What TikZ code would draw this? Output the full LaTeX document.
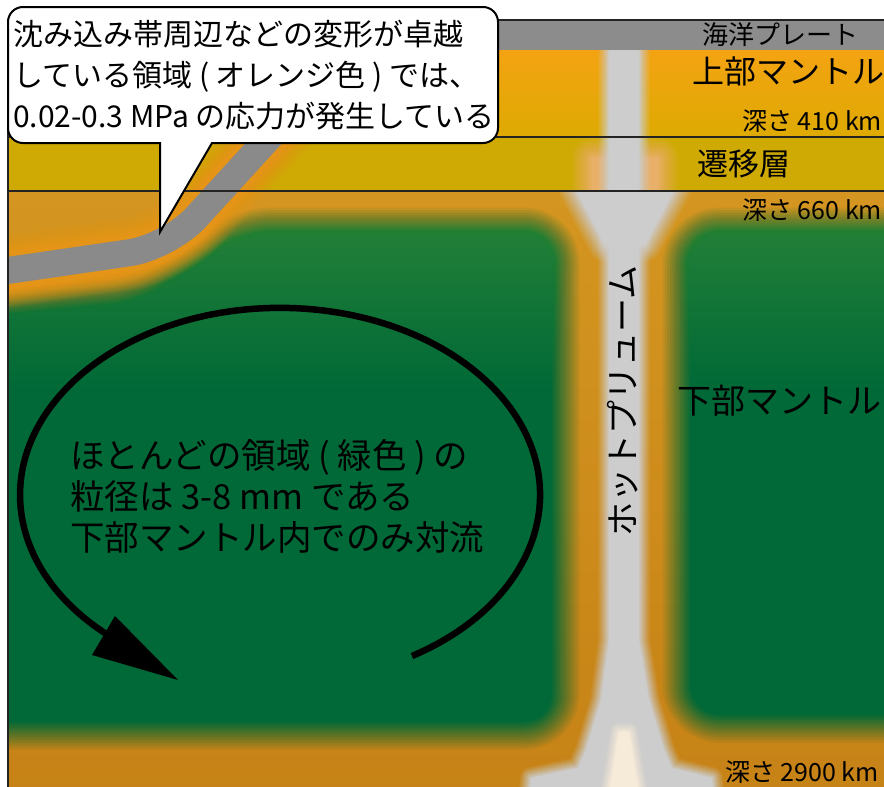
\documentclass[tikz,border=0pt]{standalone}
\usepackage{fontspec}
\setmainfont{Noto Sans CJK JP}

% ---------- colours ----------
\definecolor{plate}{RGB}{140,140,140}
\definecolor{umtop}{RGB}{244,163,18}
\definecolor{umbot}{RGB}{222,170,2}
\definecolor{tzone}{RGB}{207,170,5}
\definecolor{lmtop}{RGB}{212,150,32}
\definecolor{lmbot}{RGB}{198,130,22}
\definecolor{dgreen}{RGB}{0,105,55}
\definecolor{glowtop}{RGB}{40,131,30}
\definecolor{glowbot}{RGB}{0,105,30}
\definecolor{slabhalo}{RGB}{228,148,22}
\definecolor{slabgray}{RGB}{138,138,138}
\definecolor{plumegray}{RGB}{205,205,205}
\definecolor{tzhalo}{RGB}{232,176,105}
\definecolor{cream}{RGB}{246,234,216}
\definecolor{linecol}{RGB}{35,35,35}

% soft-edged filled region: colour, edge width, path
\newcommand\softfill[3]{%
  \foreach \m in {11,10,...,1}{%
    \pgfmathsetmacro\softlw{2*#2*\m/12}%
    \pgfmathsetmacro\softop{1/(\m+1)}%
    \begin{scope}[transparency group, opacity=\softop]
      \filldraw[fill=#1, draw=#1, line width=\softlw pt, line join=round] #3;
    \end{scope}
  }%
  \fill[#1] #3;
}
% soft-edged band along a path: colour, edge width, core width, path
\newcommand\softline[4]{%
  \foreach \m in {11,10,...,1}{%
    \pgfmathsetmacro\softlw{#3+2*#2*\m/12}%
    \pgfmathsetmacro\softop{1/(\m+1)}%
    \draw[draw=#1, opacity=\softop, line width=\softlw pt, line join=round, line cap=round] #4;
  }%
  \draw[draw=#1, line width=#3pt, line join=round, line cap=round] #4;
}

% core outlines of the two green (fine-grained) lower-mantle blocks
\newcommand\leftblock{[rounded corners=28pt] (-60,322) -- (140,303) -- (245,235) -- (552,235) -- (552,722) -- (-60,722) -- cycle}
\newcommand\rightblock{[rounded corners=30pt] (690,235) -- (950,235) -- (950,715) -- (690,715) -- cycle}

\tikzset{
  lbl/.style={inner sep=0pt, text=black, font=\fontsize{#1pt}{#1pt}\selectfont},
  txtblock/.style={inner sep=0pt, text=black, align=left, font=\fontsize{#1pt}{41pt}\selectfont},
  frameline/.style={draw=linecol, line width=2pt},
}

\begin{document}
\begin{tikzpicture}[x=1pt, y=-1pt]
\useasboundingbox (0,0) rectangle (884,787);
\clip (0,0) rectangle (884,787);
\fill[white] (0,0) rectangle (884,787);

\begin{scope}
\clip (8,20) rectangle (900,800);
% mantle layers
\shade[top color=umtop, bottom color=umbot] (8,49) rectangle (900,137);
\fill[tzone] (8,137) rectangle (900,191);
\shade[top color=lmtop, bottom color=lmbot] (8,191) rectangle (900,800);

% warm halo of the plume inside the transition zone
\begin{scope}
  \clip (0,137) rectangle (900,191);
  \softfill{tzhalo}{22}{(592,158) rectangle (658,205)}
\end{scope}

% lower mantle (green)
\softfill{dgreen}{30}{\leftblock}
\softfill{dgreen}{30}{\rightblock}
% the green is a little lighter near its top
\shade[blend mode=lighten, top color=glowtop, bottom color=glowbot] (8,200) rectangle (900,390);

% subducting slab with its deformed (orange) surroundings
\softline{slabhalo}{20}{38}{[rounded corners=40pt] (-30,276) -- (169,247) -- (349,50)}
\draw[slabgray, line width=27pt, line join=round] [rounded corners=40pt] (-30,276) -- (169,247) -- (349,50);

% hot plume
\softfill{plumegray}{12}{(609,45) -- (639,45) -- (639,640) -- (649,700) -- (664,750) -- (672,768) -- (712,778) -- (714,800) -- (529,800) -- (531,778) -- (578,768) -- (586,750) -- (601,700) -- (609,640) -- cycle}
\begin{scope}
  \clip (0,191) rectangle (900,800);
  \softfill{plumegray}{18}{(572,183) -- (678,183) -- (645,245) -- (605,245) -- cycle}
\end{scope}
\softfill{cream}{10}{(619,732) -- (629,732) -- (640,800) -- (608,800) -- cycle}

% oceanic plate
\fill[plate] (8,20) rectangle (900,49.5);
\end{scope}

% boundaries
\draw[frameline] (8,800) -- (8,20) -- (900,20);
\draw[frameline] (8,137) -- (900,137);
\draw[frameline] (8,191) -- (900,191);

% layer labels
\node[lbl=26] (plateLbl) at (780,35) {海洋プレート};
\node[lbl=32, anchor=west] (umLbl) at (692,71) {上部マントル};
\node[lbl=25, anchor=west] (d410) at (742,121) {深さ 410 km};
\node[lbl=31, anchor=west] (tzLbl) at (697,164) {遷移層};
\node[lbl=25, anchor=west] (d660) at (742,210) {深さ 660 km};
\node[lbl=34, anchor=west] (lmLbl) at (677,401) {下部マントル};
\node[lbl=25, anchor=west] (d2900) at (725,772) {深さ 2900 km};
\node[lbl=34, rotate=90] (plumeLbl) at (623,401) {ホットプリューム};

% convection cell
\coordinate (cvStart) at (412,656);
\coordinate (cvTip) at (178,680);
\coordinate (cvBaseA) at (92,655);
\coordinate (cvBaseB) at (115,616);
\draw[black, line width=6.5pt] (cvStart) arc[start angle=59.5, end angle=-228, x radius=260, y radius=187];
\fill[black] (cvBaseA) -- (cvBaseB) -- (cvTip) -- cycle;
\node[txtblock=34.5, anchor=west] (convTxt) at (70,496)
  {ほとんどの領域 ( 緑色 ) の\\粒径は 3-8 mm である\\下部マントル内でのみ対流};

% speech bubble
\draw[fill=white, draw=black, line width=2pt] (160,143) [rounded corners=15pt] -- (8,143) -- (8,7) -- (498,7) -- (498,143) -- (232,143) [sharp corners] -- (212,143) -- (160,232) -- cycle;
\node[txtblock=30, anchor=west] (bubbleTxt) at (13,75)
  {沈み込み帯周辺などの変形が卓越\\している領域 ( オレンジ色 ) では、\\0.02-0.3 MPa の応力が発生している};
\end{tikzpicture}
\end{document}
